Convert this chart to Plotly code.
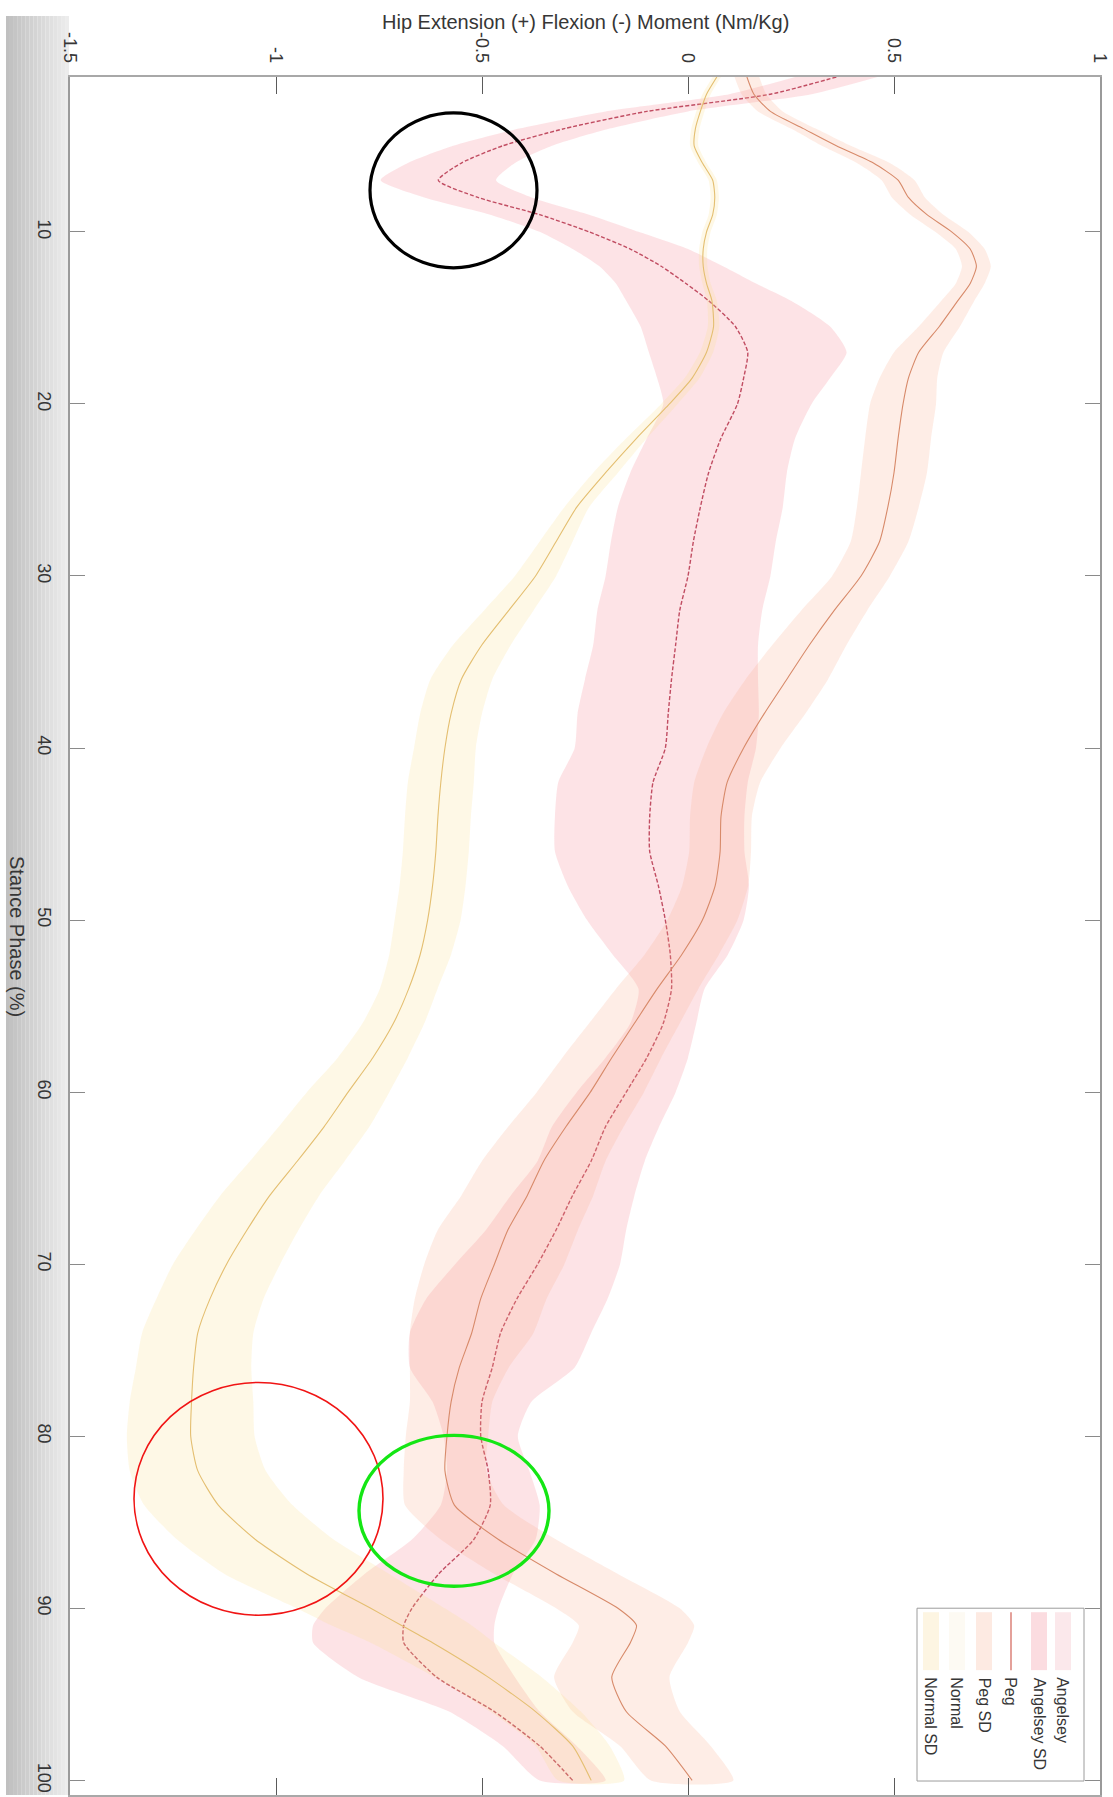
import plotly.graph_objects as go

# Stance phase sample points (%), shared by every series
phase = [1, 2, 3, 4, 5, 6, 7, 8, 9, 10,
         11, 12, 13, 14, 15.5, 17, 18.5, 20, 22, 24,
         26, 28, 30, 32, 34, 36, 38, 40, 42, 44,
         46, 48, 50, 52, 54, 56, 58, 60, 62, 64,
         66, 68, 70, 72, 74, 76, 78, 80, 82, 84,
         86, 88, 90, 91, 92, 94, 96, 98, 100]

# Hip extension (+) / flexion (-) moment, Nm/Kg
angelsey_mean = [0.36, 0.20, -0.10, -0.30, -0.45, -0.55, -0.606, -0.51, -0.36, -0.24,
                 -0.14, -0.065, -0.005, 0.05, 0.115, 0.145, 0.135, 0.12, 0.08, 0.05,
                 0.03, 0.013, 0.0, -0.02, -0.03, -0.04, -0.048, -0.055, -0.085, -0.093,
                 -0.093, -0.072, -0.055, -0.043, -0.04, -0.06, -0.10, -0.15, -0.20, -0.235,
                 -0.28, -0.32, -0.365, -0.415, -0.455, -0.475, -0.50, -0.503, -0.485, -0.48,
                 -0.52, -0.605, -0.67, -0.69, -0.69, -0.61, -0.47, -0.36, -0.28]
angelsey_sd = [0.10, 0.10, 0.10, 0.11, 0.12, 0.13, 0.14, 0.13, 0.12, 0.12,
               0.14, 0.15, 0.17, 0.20, 0.23, 0.24, 0.21, 0.18, 0.18, 0.19,
               0.20, 0.20, 0.20, 0.20, 0.20, 0.21, 0.22, 0.22, 0.23, 0.23,
               0.23, 0.22, 0.19, 0.14, 0.08, 0.08, 0.10, 0.12, 0.13, 0.13,
               0.15, 0.17, 0.20, 0.22, 0.22, 0.20, 0.12, 0.09, 0.10, 0.12,
               0.15, 0.18, 0.21, 0.22, 0.22, 0.19, 0.11, 0.09, 0.08]

peg_mean = [0.143, 0.16, 0.20, 0.28, 0.36, 0.45, 0.51, 0.535, 0.58, 0.64,
            0.685, 0.70, 0.685, 0.655, 0.61, 0.56, 0.535, 0.522, 0.51, 0.50,
            0.485, 0.465, 0.42, 0.355, 0.295, 0.24, 0.185, 0.135, 0.095, 0.08,
            0.078, 0.066, 0.035, -0.015, -0.075, -0.13, -0.185, -0.237, -0.296, -0.35,
            -0.39, -0.437, -0.47, -0.503, -0.525, -0.555, -0.575, -0.585, -0.59, -0.567,
            -0.46, -0.32, -0.17, -0.125, -0.14, -0.185, -0.15, -0.055, 0.01]
peg_sd = [0.03, 0.03, 0.03, 0.03, 0.035, 0.04, 0.04, 0.04, 0.04, 0.04,
          0.035, 0.035, 0.035, 0.04, 0.05, 0.06, 0.07, 0.08, 0.08, 0.08,
          0.075, 0.07, 0.07, 0.08, 0.09, 0.10, 0.10, 0.09, 0.08, 0.075,
          0.075, 0.08, 0.085, 0.09, 0.10, 0.11, 0.12, 0.13, 0.14, 0.15,
          0.16, 0.17, 0.17, 0.16, 0.15, 0.12, 0.10, 0.10, 0.10, 0.12,
          0.14, 0.15, 0.15, 0.14, 0.14, 0.14, 0.13, 0.11, 0.10]

normal_mean = [0.07, 0.045, 0.03, 0.018, 0.015, 0.035, 0.06, 0.065, 0.06, 0.045,
               0.037, 0.037, 0.045, 0.058, 0.062, 0.045, 0.01, -0.045, -0.125, -0.20,
               -0.27, -0.32, -0.37, -0.435, -0.50, -0.55, -0.575, -0.59, -0.60, -0.607,
               -0.612, -0.62, -0.632, -0.65, -0.678, -0.715, -0.765, -0.825, -0.883, -0.948,
               -1.015, -1.07, -1.12, -1.16, -1.19, -1.20, -1.205, -1.207, -1.19, -1.14,
               -1.05, -0.925, -0.77, -0.695, -0.62, -0.485, -0.37, -0.28, -0.235]
normal_sd = [0.01, 0.01, 0.01, 0.01, 0.01, 0.01, 0.01, 0.01, 0.01, 0.01,
             0.01, 0.01, 0.01, 0.012, 0.014, 0.016, 0.018, 0.02, 0.025, 0.03,
             0.03, 0.04, 0.05, 0.06, 0.07, 0.075, 0.075, 0.075, 0.08, 0.08,
             0.08, 0.08, 0.08, 0.075, 0.07, 0.075, 0.085, 0.10, 0.11, 0.115,
             0.12, 0.125, 0.13, 0.13, 0.135, 0.14, 0.15, 0.155, 0.165, 0.18,
             0.19, 0.20, 0.18, 0.17, 0.15, 0.13, 0.11, 0.09, 0.08]

moment_ticks = [-1.5, -1, -0.5, 0, 0.5, 1]
moment_labels = ["-1.5", "-1", "-0.5", "0", "0.5", "1"]
phase_ticks = [10, 20, 30, 40, 50, 60, 70, 80, 90, 100]
phase_labels = [str(v) for v in phase_ticks]

legend_names = ["Angelsey", "Angelsey SD", "Peg", "Peg SD", "Normal", "Normal SD"]

FONT = "Liberation Sans, Arial, Helvetica, sans-serif"
TEXT = "#363636"

W, H = 1113, 1797
PL, PR, PT, PB = 70, 1100, 77, 1797


def px(x):
    return (x - PL) / (PR - PL)


def py(y):
    return (PB - y) / (PB - PT)


def band(mean, sd, fill):
    upper = [m + s for m, s in zip(mean, sd)]
    lower = [m - s for m, s in zip(mean, sd)]
    return go.Scatter(
        x=upper + lower[::-1], y=phase + phase[::-1],
        fill="toself", fillcolor=fill, mode="lines",
        line=dict(width=0, shape="spline", smoothing=0.6),
        hoverinfo="skip", showlegend=False)


def mean_line(mean, color, width, dash="solid"):
    return go.Scatter(
        x=mean, y=phase, mode="lines",
        line=dict(color=color, width=width, dash=dash, shape="spline", smoothing=0.6),
        showlegend=False)


fig = go.Figure()
# Plotted in the same order as the legend: each SD patch is laid over the lines before it
fig.add_trace(mean_line(angelsey_mean, "rgb(176,58,82)", 1.4, dash="4px,2px"))
fig.add_trace(band(angelsey_mean, angelsey_sd, "rgba(245,140,152,0.24)"))
fig.add_trace(mean_line(peg_mean, "rgb(206,128,96)", 1.1))
fig.add_trace(band(peg_mean, peg_sd, "rgba(250,175,140,0.22)"))
fig.add_trace(mean_line(normal_mean, "rgb(222,182,105)", 1.1))
fig.add_trace(band(normal_mean, normal_sd, "rgba(250,222,140,0.22)"))

shapes = []
# shaded strip along the left edge
n_strips = 16
x0, x1 = 6, 69
for i in range(n_strips):
    t = i / (n_strips - 1)
    g = int(192 + (236 - 192) * t)
    shapes.append(dict(
        type="rect", xref="paper", yref="paper",
        x0=px(x0 + (x1 - x0) * i / n_strips), x1=px(x0 + (x1 - x0) * (i + 1) / n_strips),
        y0=py(PB), y1=py(16), line=dict(width=0),
        fillcolor=f"rgb({g},{g},{g})", layer="below"))

# highlight rings: early flexion peak, late-stance normal peak, late-stance prosthetic plateau
rings = [
    ((370, 113, 537, 268), "black", 3.2),
    ((134, 1384, 383, 1617), "rgb(240,20,20)", 1.6),
    ((359, 1437, 549, 1588), "rgb(20,230,20)", 3.4),
]
for (rx0, ry0, rx1, ry1), col, lw in rings:
    shapes.append(dict(type="circle", xref="paper", yref="paper",
                       x0=px(rx0), x1=px(rx1), y0=py(ry1), y1=py(ry0),
                       line=dict(color=col, width=lw), layer="above"))

# legend box (entries run right-to-left, text reads downward)
shapes.append(dict(type="rect", xref="paper", yref="paper",
                   x0=px(917), x1=px(1084), y0=py(1783), y1=py(1610),
                   line=dict(color="#9c9c9c", width=1), fillcolor="white", layer="above"))
legend_cols = [1063, 1039, 1011, 984, 957, 931]
sym_top, sym_bot = 1614, 1672
legend_swatches = ["rgba(251,232,235,1)", "rgba(251,220,224,1)", None,
                   "rgba(253,234,226,1)", "rgba(253,250,243,1)", "rgba(253,245,226,1)"]
for cx, sw in zip(legend_cols, legend_swatches):
    if sw is None:
        shapes.append(dict(type="line", xref="paper", yref="paper",
                           x0=px(cx), x1=px(cx), y0=py(sym_bot), y1=py(sym_top),
                           line=dict(color="rgb(214,110,100)", width=1.3), layer="above"))
    else:
        shapes.append(dict(type="rect", xref="paper", yref="paper",
                           x0=px(cx - 8), x1=px(cx + 8), y0=py(sym_bot), y1=py(sym_top),
                           line=dict(width=0), fillcolor=sw, layer="above"))

annotations = []
for cx, name in zip(legend_cols, legend_names):
    annotations.append(dict(
        text=name, xref="paper", yref="paper", x=px(cx), y=py(1677),
        xanchor="center", yanchor="top", textangle=90, showarrow=False,
        font=dict(family=FONT, size=16, color=TEXT)))

annotations.append(dict(
    text="Hip Extension (+) Flexion (-) Moment (Nm/Kg)", xref="paper", yref="paper",
    x=0.5, y=py(22), xanchor="center", yanchor="middle", showarrow=False,
    font=dict(family=FONT, size=20, color=TEXT)))
annotations.append(dict(
    text="Stance Phase (%)", xref="paper", yref="paper",
    x=px(17), y=0.5, xanchor="center", yanchor="middle", textangle=90, showarrow=False,
    font=dict(family=FONT, size=20, color=TEXT)))

fig.update_layout(
    width=W, height=H,
    margin=dict(l=PL, r=W - PR, t=PT, b=H - PB, pad=0),
    paper_bgcolor="white", plot_bgcolor="white",
    showlegend=False,
    shapes=shapes, annotations=annotations,
    font=dict(family=FONT, color=TEXT),
)
fig.update_xaxes(
    range=[-1.5, 1], side="top",
    tickvals=moment_ticks, ticktext=moment_labels, tickangle=90,
    ticks="inside", ticklen=17, tickwidth=1.3, tickcolor="#5a5a5a",
    ticklabelstandoff=6,
    showline=True, linecolor="#a8a8a8", linewidth=1.5, mirror="ticks",
    showgrid=False, zeroline=False,
    tickfont=dict(family=FONT, size=18, color=TEXT))
fig.update_yaxes(
    range=[100.85, 1],
    tickvals=phase_ticks, ticktext=phase_labels, tickangle=90,
    ticks="inside", ticklen=15, tickwidth=1.3, tickcolor="#8a8a8a",
    ticklabelstandoff=8,
    showline=True, linecolor="#9a9a9a", linewidth=2, mirror="ticks",
    showgrid=False, zeroline=False,
    tickfont=dict(family=FONT, size=18, color=TEXT))

fig.write_html("out.html")
